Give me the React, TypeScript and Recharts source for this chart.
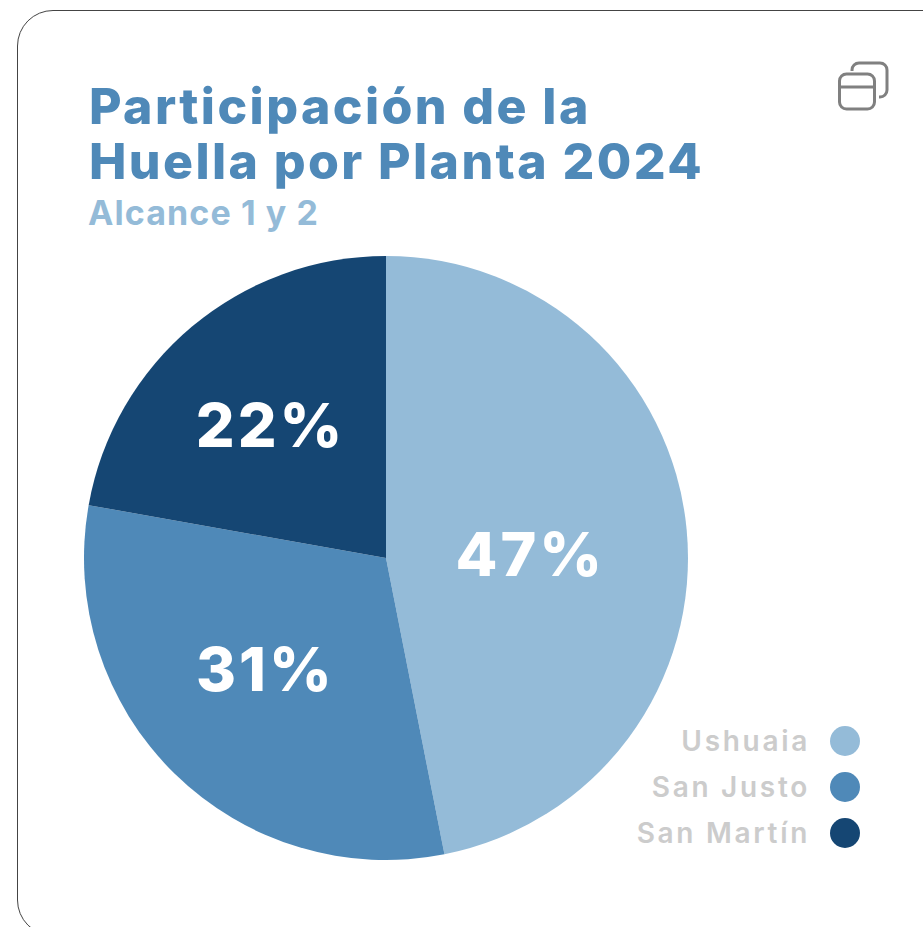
import React from "react";
import { PieChart, Pie, Cell, Legend } from "recharts";

const plantas = ["Ushuaia", "San Justo", "San Martín"];
const participacion = [46.9, 30.9, 22.2];
const colores = ["#94bbd8", "#4f89b8", "#154673"];

const data = plantas.map((name, i) => ({ name, value: participacion[i] }));

const FONT = "Inter, 'Open Sans', sans-serif";
const RADIAN = Math.PI / 180;

// the labels in the original are not quite on the mid radius of each slice
const labelDist = [142, 168, 175];
const labelNudge = [
  [3, 10],
  [-3, -9],
  [-3, 1],
];

function renderLabel({ cx, cy, midAngle, index, value }: any) {
  const r = labelDist[index];
  const x = cx + r * Math.cos(-midAngle * RADIAN) + labelNudge[index][0];
  const y = cy + r * Math.sin(-midAngle * RADIAN) + labelNudge[index][1];
  return (
    <text
      x={x}
      y={y}
      fill="#fff"
      textAnchor="middle"
      dominantBaseline="central"
      fontFamily={FONT}
      fontWeight={800}
      fontSize={61}
      letterSpacing={3}
    >
      {Math.round(value)}%
    </text>
  );
}

function PlantLegend({ payload }: any) {
  return (
    <div style={{ fontFamily: FONT }}>
      {(payload || []).map((item: any) => (
        <div
          key={item.value}
          style={{
            display: "flex",
            justifyContent: "flex-end",
            alignItems: "center",
            height: 46,
          }}
        >
          <span
            style={{
              color: "#cccccc",
              fontSize: 28,
              fontWeight: 600,
              letterSpacing: 2.7,
              marginRight: 20,
            }}
          >
            {item.value}
          </span>
          <span
            style={{
              width: 30,
              height: 30,
              borderRadius: "50%",
              background: item.color,
            }}
          />
        </div>
      ))}
    </div>
  );
}

export default function App() {
  return (
    <div
      style={{
        position: "fixed",
        left: 0,
        top: 0,
        width: 923,
        height: 927,
        overflow: "hidden",
        background: "#fff",
      }}
    >
      <div
        style={{
          position: "absolute",
          left: 17,
          top: 10,
          width: 960,
          height: 926,
          border: "1.5px solid #444",
          borderRadius: 36,
          boxSizing: "border-box",
        }}
      />
      <div
        style={{
          position: "absolute",
          left: 89,
          top: 79,
          fontFamily: FONT,
          fontWeight: 800,
          fontSize: 50,
          lineHeight: "55px",
          letterSpacing: 2.4,
          color: "#4f89b8",
          whiteSpace: "nowrap",
        }}
      >
        Participación de la
        <br />
        Huella por Planta 2024
      </div>
      <div
        style={{
          position: "absolute",
          left: 88,
          top: 192,
          fontFamily: FONT,
          fontWeight: 700,
          fontSize: 34,
          lineHeight: "42px",
          letterSpacing: 1.1,
          color: "#94bbd8",
          whiteSpace: "nowrap",
        }}
      >
        Alcance 1 y 2
      </div>
      <svg
        width={60}
        height={60}
        viewBox="0 0 60 60"
        style={{ position: "absolute", left: 833, top: 56 }}
        fill="none"
        stroke="#808080"
        strokeWidth={3}
      >
        <rect x={6.5} y={18} width={35} height={35} rx={7} />
        <path d="M6.5 31H41.5" />
        <path d="M19 15V14a7 7 0 0 1 7-7H47a7 7 0 0 1 7 7V34a7 7 0 0 1-7 7H46" />
      </svg>
      <div style={{ position: "absolute", left: 0, top: 0 }}>
        <PieChart
          width={923}
          height={927}
          margin={{ top: 0, right: 0, bottom: 0, left: 0 }}
        >
          <Pie
            data={data}
            dataKey="value"
            nameKey="name"
            cx={386}
            cy={558}
            innerRadius={0}
            outerRadius={302}
            startAngle={90}
            endAngle={-270}
            stroke="none"
            label={renderLabel}
            labelLine={false}
            isAnimationActive={false}
          >
            {data.map((d, i) => (
              <Cell key={d.name} fill={colores[i]} />
            ))}
          </Pie>
          <Legend
            content={<PlantLegend />}
            itemSorter={null}
            wrapperStyle={{ position: "absolute", left: 560, top: 718, width: 300, bottom: "auto" }}
          />
        </PieChart>
      </div>
    </div>
  );
}
